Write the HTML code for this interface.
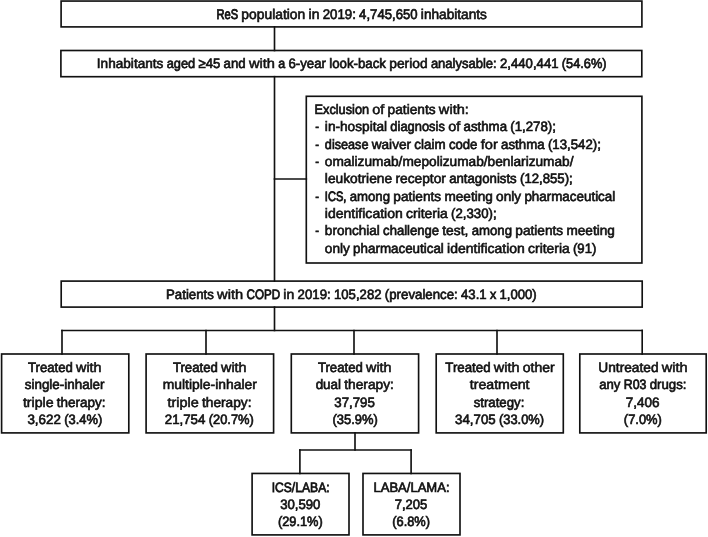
<!DOCTYPE html>
<html><head><meta charset="utf-8"><title>COPD flow</title>
<style>
html,body{margin:0;padding:0;background:#fff;width:708px;height:537px;overflow:hidden}
svg{display:block;filter:blur(0.3px)}
text{text-rendering:geometricPrecision;font-family:"Liberation Sans",sans-serif;font-size:13.6px;fill:#111111;stroke:#111111;stroke-width:0.62px}
</style></head><body>
<svg width="708" height="537" viewBox="0 0 708 537">
<g fill="none" stroke="#111111" stroke-width="1.65" stroke-linecap="square">
<rect x="61.1" y="1.05" width="580.8" height="25.85"/>
<rect x="60.9" y="50.5" width="580.9" height="26.2"/>
<rect x="306.3" y="96.3" width="335.6" height="166.7"/>
<rect x="61.2" y="281.1" width="581" height="26"/>
<rect x="1.6" y="354" width="127.2" height="78.9"/>
<rect x="146.1" y="354" width="127.5" height="78.9"/>
<rect x="291.3" y="354" width="127.3" height="78.9"/>
<rect x="436.2" y="354" width="127.1" height="78.9"/>
<rect x="579.8" y="354" width="126.4" height="78.9"/>
<rect x="252.1" y="473.45" width="96.9" height="61.45"/>
<rect x="363" y="473.45" width="97" height="61.45"/>
<line x1="274.5" y1="26.9" x2="274.5" y2="50.5"/>
<line x1="274.5" y1="76.7" x2="274.5" y2="281.1"/>
<line x1="274.5" y1="179" x2="306.3" y2="179"/>
<line x1="274.5" y1="307.1" x2="274.5" y2="330.45"/>
<line x1="62" y1="330.45" x2="642.2" y2="330.45"/>
<line x1="62" y1="330.45" x2="62" y2="354"/>
<line x1="206" y1="330.45" x2="206" y2="354"/>
<line x1="354" y1="330.45" x2="354" y2="354"/>
<line x1="497" y1="330.45" x2="497" y2="354"/>
<line x1="642.2" y1="330.45" x2="642.2" y2="354"/>
<line x1="355" y1="432.9" x2="355" y2="449.95"/>
<line x1="299.9" y1="449.95" x2="411.1" y2="449.95"/>
<line x1="299.9" y1="449.95" x2="299.9" y2="473.45"/>
<line x1="411.1" y1="449.95" x2="411.1" y2="473.45"/>
</g>
<g>
<text x="216.45" y="18.7" textLength="21.66" lengthAdjust="spacingAndGlyphs" style="font-size:14px;stroke-width:0.87px">ReS</text>
<text x="241.37" y="18.7" textLength="63.91" lengthAdjust="spacingAndGlyphs" style="font-size:14px;stroke-width:0.63px">population</text>
<text x="308.55" y="18.7" textLength="10.89" lengthAdjust="spacingAndGlyphs" style="font-size:14px;stroke-width:0.62px">in</text>
<text x="322.70" y="18.7" textLength="33.16" lengthAdjust="spacingAndGlyphs" style="font-size:14px;stroke-width:0.68px">2019:</text>
<text x="359.12" y="18.7" textLength="58.47" lengthAdjust="spacingAndGlyphs" style="font-size:14px;stroke-width:0.69px">4,745,650</text>
<text x="420.86" y="18.7" textLength="66.09" lengthAdjust="spacingAndGlyphs" style="font-size:14px;stroke-width:0.65px">inhabitants</text>
<text x="96.85" y="68" textLength="66.51" lengthAdjust="spacingAndGlyphs" style="stroke-width:0.62px">Inhabitants</text>
<text x="166.63" y="68" textLength="28.53" lengthAdjust="spacingAndGlyphs" style="stroke-width:0.69px">aged</text>
<text x="198.42" y="68" textLength="21.86" lengthAdjust="spacingAndGlyphs" style="stroke-width:0.66px">≥45</text>
<text x="223.55" y="68" textLength="22.11" lengthAdjust="spacingAndGlyphs" style="stroke-width:0.65px">and</text>
<text x="248.93" y="68" textLength="26.08" lengthAdjust="spacingAndGlyphs" style="stroke-width:0.53px">with</text>
<text x="278.28" y="68" textLength="6.93" lengthAdjust="spacingAndGlyphs" style="stroke-width:0.72px">a</text>
<text x="288.47" y="68" textLength="37.48" lengthAdjust="spacingAndGlyphs" style="stroke-width:0.65px">6-year</text>
<text x="329.22" y="68" textLength="56.77" lengthAdjust="spacingAndGlyphs" style="stroke-width:0.65px">look-back</text>
<text x="389.25" y="68" textLength="38.36" lengthAdjust="spacingAndGlyphs" style="stroke-width:0.60px">period</text>
<text x="430.88" y="68" textLength="65.86" lengthAdjust="spacingAndGlyphs" style="stroke-width:0.67px">analysable:</text>
<text x="500.00" y="68" textLength="58.54" lengthAdjust="spacingAndGlyphs" style="stroke-width:0.66px">2,440,441</text>
<text x="561.81" y="68" textLength="44.74" lengthAdjust="spacingAndGlyphs" style="stroke-width:0.69px">(54.6%)</text>
<text x="314.55" y="114.1" textLength="54.52" lengthAdjust="spacingAndGlyphs" style="stroke-width:0.70px">Exclusion</text>
<text x="372.34" y="114.1" textLength="12.03" lengthAdjust="spacingAndGlyphs" style="stroke-width:0.55px">of</text>
<text x="387.64" y="114.1" textLength="47.97" lengthAdjust="spacingAndGlyphs" style="stroke-width:0.61px">patients</text>
<text x="438.88" y="114.1" textLength="29.97" lengthAdjust="spacingAndGlyphs" style="stroke-width:0.53px">with:</text>
<text x="315.2" y="131.4" textLength="3.8" lengthAdjust="spacingAndGlyphs">-</text>
<text x="324.85" y="131.4" textLength="62.25" lengthAdjust="spacingAndGlyphs" style="stroke-width:0.61px">in-hospital</text>
<text x="390.37" y="131.4" textLength="54.54" lengthAdjust="spacingAndGlyphs" style="stroke-width:0.68px">diagnosis</text>
<text x="448.18" y="131.4" textLength="12.05" lengthAdjust="spacingAndGlyphs" style="stroke-width:0.55px">of</text>
<text x="463.50" y="131.4" textLength="43.55" lengthAdjust="spacingAndGlyphs" style="stroke-width:0.65px">asthma</text>
<text x="510.32" y="131.4" textLength="45.63" lengthAdjust="spacingAndGlyphs" style="stroke-width:0.65px">(1,278);</text>
<text x="315.2" y="148.7" textLength="3.8" lengthAdjust="spacingAndGlyphs">-</text>
<text x="324.85" y="148.7" textLength="43.58" lengthAdjust="spacingAndGlyphs" style="stroke-width:0.70px">disease</text>
<text x="371.70" y="148.7" textLength="39.40" lengthAdjust="spacingAndGlyphs" style="stroke-width:0.62px">waiver</text>
<text x="414.37" y="148.7" textLength="31.25" lengthAdjust="spacingAndGlyphs" style="stroke-width:0.64px">claim</text>
<text x="448.89" y="148.7" textLength="28.56" lengthAdjust="spacingAndGlyphs" style="stroke-width:0.66px">code</text>
<text x="480.72" y="148.7" textLength="17.09" lengthAdjust="spacingAndGlyphs" style="stroke-width:0.53px">for</text>
<text x="501.08" y="148.7" textLength="43.54" lengthAdjust="spacingAndGlyphs" style="stroke-width:0.65px">asthma</text>
<text x="547.89" y="148.7" textLength="52.96" lengthAdjust="spacingAndGlyphs" style="stroke-width:0.65px">(13,542);</text>
<text x="315.2" y="166" textLength="3.8" lengthAdjust="spacingAndGlyphs">-</text>
<text x="324.85" y="166" textLength="248.70" lengthAdjust="spacingAndGlyphs" style="stroke-width:0.61px">omalizumab/mepolizumab/benlarizumab/</text>
<text x="324.85" y="183.3" textLength="67.29" lengthAdjust="spacingAndGlyphs" style="stroke-width:0.61px">leukotriene</text>
<text x="395.40" y="183.3" textLength="50.51" lengthAdjust="spacingAndGlyphs" style="stroke-width:0.61px">receptor</text>
<text x="449.17" y="183.3" textLength="67.57" lengthAdjust="spacingAndGlyphs" style="stroke-width:0.65px">antagonists</text>
<text x="520.00" y="183.3" textLength="52.75" lengthAdjust="spacingAndGlyphs" style="stroke-width:0.66px">(12,855);</text>
<text x="315.2" y="200.6" textLength="3.8" lengthAdjust="spacingAndGlyphs">-</text>
<text x="324.85" y="200.6" textLength="21.55" lengthAdjust="spacingAndGlyphs" style="stroke-width:0.84px">ICS,</text>
<text x="349.67" y="200.6" textLength="40.41" lengthAdjust="spacingAndGlyphs" style="stroke-width:0.65px">among</text>
<text x="393.34" y="200.6" textLength="47.86" lengthAdjust="spacingAndGlyphs" style="stroke-width:0.61px">patients</text>
<text x="444.46" y="200.6" textLength="48.40" lengthAdjust="spacingAndGlyphs" style="stroke-width:0.62px">meeting</text>
<text x="496.12" y="200.6" textLength="25.02" lengthAdjust="spacingAndGlyphs" style="stroke-width:0.62px">only</text>
<text x="524.40" y="200.6" textLength="90.85" lengthAdjust="spacingAndGlyphs" style="stroke-width:0.64px">pharmaceutical</text>
<text x="324.85" y="217.9" textLength="77.94" lengthAdjust="spacingAndGlyphs" style="stroke-width:0.58px">identification</text>
<text x="406.05" y="217.9" textLength="41.78" lengthAdjust="spacingAndGlyphs" style="stroke-width:0.59px">criteria</text>
<text x="451.10" y="217.9" textLength="45.55" lengthAdjust="spacingAndGlyphs" style="stroke-width:0.65px">(2,330);</text>
<text x="315.2" y="235.2" textLength="3.8" lengthAdjust="spacingAndGlyphs">-</text>
<text x="324.85" y="235.2" textLength="54.98" lengthAdjust="spacingAndGlyphs" style="stroke-width:0.62px">bronchial</text>
<text x="383.10" y="235.2" textLength="55.94" lengthAdjust="spacingAndGlyphs" style="stroke-width:0.67px">challenge</text>
<text x="442.29" y="235.2" textLength="26.10" lengthAdjust="spacingAndGlyphs" style="stroke-width:0.60px">test,</text>
<text x="471.65" y="235.2" textLength="40.41" lengthAdjust="spacingAndGlyphs" style="stroke-width:0.65px">among</text>
<text x="515.33" y="235.2" textLength="47.86" lengthAdjust="spacingAndGlyphs" style="stroke-width:0.61px">patients</text>
<text x="566.44" y="235.2" textLength="48.41" lengthAdjust="spacingAndGlyphs" style="stroke-width:0.62px">meeting</text>
<text x="324.85" y="252.5" textLength="24.99" lengthAdjust="spacingAndGlyphs" style="stroke-width:0.62px">only</text>
<text x="353.10" y="252.5" textLength="90.75" lengthAdjust="spacingAndGlyphs" style="stroke-width:0.64px">pharmaceutical</text>
<text x="447.10" y="252.5" textLength="77.72" lengthAdjust="spacingAndGlyphs" style="stroke-width:0.59px">identification</text>
<text x="528.08" y="252.5" textLength="41.66" lengthAdjust="spacingAndGlyphs" style="stroke-width:0.59px">criteria</text>
<text x="573.00" y="252.5" textLength="23.35" lengthAdjust="spacingAndGlyphs" style="stroke-width:0.66px">(91)</text>
<text x="166.05" y="299" textLength="47.82" lengthAdjust="spacingAndGlyphs" style="stroke-width:0.65px">Patients</text>
<text x="217.14" y="299" textLength="26.07" lengthAdjust="spacingAndGlyphs" style="stroke-width:0.53px">with</text>
<text x="246.48" y="299" textLength="33.63" lengthAdjust="spacingAndGlyphs" style="stroke-width:0.79px">COPD</text>
<text x="283.37" y="299" textLength="10.90" lengthAdjust="spacingAndGlyphs" style="stroke-width:0.58px">in</text>
<text x="297.54" y="299" textLength="33.18" lengthAdjust="spacingAndGlyphs" style="stroke-width:0.65px">2019:</text>
<text x="333.99" y="299" textLength="47.58" lengthAdjust="spacingAndGlyphs" style="stroke-width:0.66px">105,282</text>
<text x="384.83" y="299" textLength="72.94" lengthAdjust="spacingAndGlyphs" style="stroke-width:0.65px">(prevalence:</text>
<text x="461.03" y="299" textLength="25.62" lengthAdjust="spacingAndGlyphs" style="stroke-width:0.66px">43.1</text>
<text x="489.92" y="299" textLength="6.26" lengthAdjust="spacingAndGlyphs" style="stroke-width:0.72px">x</text>
<text x="499.45" y="299" textLength="37.30" lengthAdjust="spacingAndGlyphs" style="stroke-width:0.66px">1,000)</text>
<text x="28.05" y="372" textLength="44.81" lengthAdjust="spacingAndGlyphs" style="stroke-width:0.66px">Treated</text>
<text x="76.06" y="372" textLength="25.49" lengthAdjust="spacingAndGlyphs" style="stroke-width:0.56px">with</text>
<text x="24.75" y="389.2" textLength="79.80" lengthAdjust="spacingAndGlyphs" style="stroke-width:0.64px">single-inhaler</text>
<text x="22.95" y="406.6" textLength="30.71" lengthAdjust="spacingAndGlyphs" style="stroke-width:0.57px">triple</text>
<text x="56.87" y="406.6" textLength="48.68" lengthAdjust="spacingAndGlyphs" style="stroke-width:0.63px">therapy:</text>
<text x="27.45" y="424" textLength="33.47" lengthAdjust="spacingAndGlyphs" style="stroke-width:0.64px">3,622</text>
<text x="64.24" y="424" textLength="38.01" lengthAdjust="spacingAndGlyphs" style="stroke-width:0.68px">(3.4%)</text>
<text x="172.95" y="372" textLength="44.87" lengthAdjust="spacingAndGlyphs" style="stroke-width:0.66px">Treated</text>
<text x="221.02" y="372" textLength="25.53" lengthAdjust="spacingAndGlyphs" style="stroke-width:0.55px">with</text>
<text x="162.65" y="389.2" textLength="94.20" lengthAdjust="spacingAndGlyphs" style="stroke-width:0.59px">multiple-inhaler</text>
<text x="167.45" y="406.6" textLength="31.27" lengthAdjust="spacingAndGlyphs" style="stroke-width:0.55px">triple</text>
<text x="201.98" y="406.6" textLength="49.57" lengthAdjust="spacingAndGlyphs" style="stroke-width:0.61px">therapy:</text>
<text x="164.75" y="424" textLength="40.65" lengthAdjust="spacingAndGlyphs" style="stroke-width:0.65px">21,754</text>
<text x="208.69" y="424" textLength="45.16" lengthAdjust="spacingAndGlyphs" style="stroke-width:0.68px">(20.7%)</text>
<text x="317.95" y="372" textLength="44.87" lengthAdjust="spacingAndGlyphs" style="stroke-width:0.66px">Treated</text>
<text x="366.02" y="372" textLength="25.53" lengthAdjust="spacingAndGlyphs" style="stroke-width:0.55px">with</text>
<text x="315.65" y="389.2" textLength="25.38" lengthAdjust="spacingAndGlyphs" style="stroke-width:0.64px">dual</text>
<text x="344.30" y="389.2" textLength="49.55" lengthAdjust="spacingAndGlyphs" style="stroke-width:0.61px">therapy:</text>
<text x="334.25" y="406.6" textLength="40.60" lengthAdjust="spacingAndGlyphs" style="stroke-width:0.65px">37,795</text>
<text x="332.45" y="424" textLength="45.30" lengthAdjust="spacingAndGlyphs" style="stroke-width:0.68px">(35.9%)</text>
<text x="445.25" y="372" textLength="45.32" lengthAdjust="spacingAndGlyphs" style="stroke-width:0.65px">Treated</text>
<text x="493.80" y="372" textLength="25.78" lengthAdjust="spacingAndGlyphs" style="stroke-width:0.54px">with</text>
<text x="522.82" y="372" textLength="31.93" lengthAdjust="spacingAndGlyphs" style="stroke-width:0.58px">other</text>
<text x="469.85" y="389.2" textLength="59.70" lengthAdjust="spacingAndGlyphs" style="stroke-width:0.57px">treatment</text>
<text x="473.65" y="406.6" textLength="50.70" lengthAdjust="spacingAndGlyphs" style="stroke-width:0.65px">strategy:</text>
<text x="455.05" y="424" textLength="40.60" lengthAdjust="spacingAndGlyphs" style="stroke-width:0.65px">34,705</text>
<text x="498.95" y="424" textLength="45.10" lengthAdjust="spacingAndGlyphs" style="stroke-width:0.68px">(33.0%)</text>
<text x="598.35" y="372" textLength="60.20" lengthAdjust="spacingAndGlyphs" style="stroke-width:0.61px">Untreated</text>
<text x="661.80" y="372" textLength="25.95" lengthAdjust="spacingAndGlyphs" style="stroke-width:0.53px">with</text>
<text x="599.25" y="389.2" textLength="21.19" lengthAdjust="spacingAndGlyphs" style="stroke-width:0.66px">any</text>
<text x="623.73" y="389.2" textLength="22.65" lengthAdjust="spacingAndGlyphs" style="stroke-width:0.73px">R03</text>
<text x="649.66" y="389.2" textLength="36.79" lengthAdjust="spacingAndGlyphs" style="stroke-width:0.65px">drugs:</text>
<text x="625.65" y="406.6" textLength="33.90" lengthAdjust="spacingAndGlyphs" style="stroke-width:0.62px">7,406</text>
<text x="623.85" y="424" textLength="38.00" lengthAdjust="spacingAndGlyphs" style="stroke-width:0.68px">(7.0%)</text>
<text x="271.65" y="491.6" textLength="58.00" lengthAdjust="spacingAndGlyphs" style="stroke-width:0.75px">ICS/LABA:</text>
<text x="280.15" y="508.7" textLength="40.30" lengthAdjust="spacingAndGlyphs" style="stroke-width:0.66px">30,590</text>
<text x="277.95" y="525.7" textLength="44.80" lengthAdjust="spacingAndGlyphs" style="stroke-width:0.69px">(29.1%)</text>
<text x="373.45" y="491.6" textLength="76.10" lengthAdjust="spacingAndGlyphs" style="stroke-width:0.67px">LABA/LAMA:</text>
<text x="394.65" y="508.7" textLength="32.70" lengthAdjust="spacingAndGlyphs" style="stroke-width:0.67px">7,205</text>
<text x="392.25" y="525.7" textLength="37.80" lengthAdjust="spacingAndGlyphs" style="stroke-width:0.69px">(6.8%)</text>
</g>
</svg>
</body></html>
